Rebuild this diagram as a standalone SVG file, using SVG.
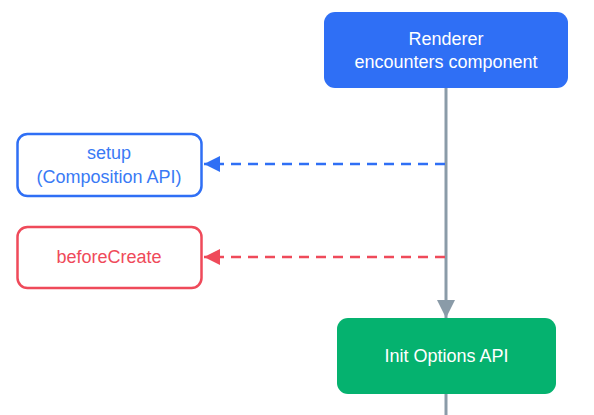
<svg xmlns="http://www.w3.org/2000/svg" width="594" height="415" viewBox="0 0 594 415">
<style>
text{font-family:"Liberation Sans",Arial,sans-serif;font-size:18px;text-anchor:middle}
.w{fill:#fff}
.b{fill:#3a7af5}
.r{fill:#ef4a5a}
.dash{fill:none;stroke-width:2.5;stroke-dasharray:10 7}
</style>
<defs>
<marker id="ab" viewBox="0 0 10 10" refX="10" refY="5" markerWidth="16" markerHeight="16" markerUnits="userSpaceOnUse" orient="auto"><path d="M0,0L10,5L0,10z" fill="#2f6ff5"/></marker>
<marker id="ar" viewBox="0 0 10 10" refX="10" refY="5" markerWidth="16" markerHeight="16" markerUnits="userSpaceOnUse" orient="auto"><path d="M0,0L10,5L0,10z" fill="#ef4a5a"/></marker>
<marker id="ag" viewBox="0 0 10 10" refX="10" refY="5" markerWidth="18" markerHeight="18" markerUnits="userSpaceOnUse" orient="auto"><path d="M0,0L10,5L0,10z" fill="#8a9ba8"/></marker>
</defs>
<g id="connectors">
<line x1="446" y1="88" x2="446" y2="318" stroke="#8a9ba8" stroke-width="3" marker-end="url(#ag)"/>
<line x1="446" y1="394" x2="446" y2="415" stroke="#8a9ba8" stroke-width="3"/>
<line class="dash" x1="445" y1="164" x2="204" y2="164" stroke="#2f6ff5" marker-end="url(#ab)"/>
<line class="dash" x1="445" y1="257" x2="204" y2="257" stroke="#ef4a5a" marker-end="url(#ar)"/>
</g>
<g id="renderer">
<rect x="324" y="12" width="244" height="76" rx="11" fill="#2f6ff5"/>
<text class="w" x="446" y="45">Renderer</text>
<text class="w" x="446" y="68">encounters component</text>
</g>
<g id="setup">
<rect x="17.5" y="134" width="184" height="62" rx="10" fill="#fff" stroke="#2f6ff5" stroke-width="2.5"/>
<text class="b" x="109" y="159">setup</text>
<text class="b" x="109" y="183">(Composition API)</text>
</g>
<g id="beforeCreate">
<rect x="17.5" y="227" width="184" height="61" rx="10" fill="#fff" stroke="#ef4a5a" stroke-width="2.5"/>
<text class="r" x="109" y="263">beforeCreate</text>
</g>
<g id="init">
<rect x="337" y="318" width="219" height="76" rx="11" fill="#05b26f"/>
<text class="w" x="446.5" y="362">Init Options API</text>
</g>
</svg>
